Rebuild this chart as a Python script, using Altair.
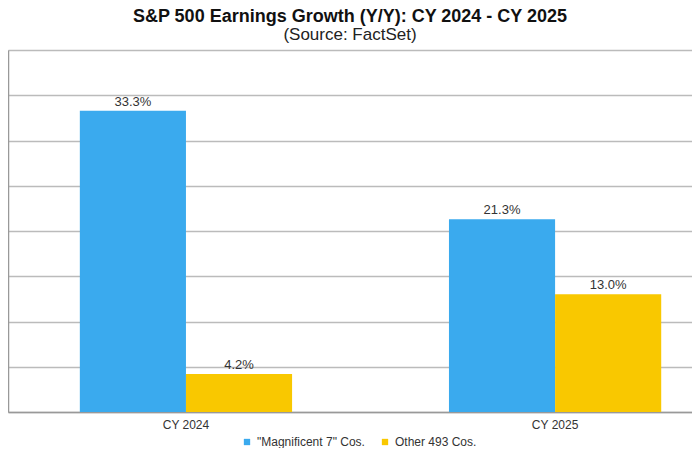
import altair as alt
import pandas as pd

years = ["CY 2024", "CY 2025"]
series = ['"Magnificent 7" Cos.', "Other 493 Cos."]
mag7 = [33.3, 21.3]
other = [4.2, 13.0]
colors = ["#3AAAEE", "#F9C800"]

rows = []
for i, y in enumerate(years):
    rows.append({"year": y, "series": series[0], "value": mag7[i], "order": 0})
    rows.append({"year": y, "series": series[1], "value": other[i], "order": 1})
df = pd.DataFrame(rows)
df["label"] = df["value"].map(lambda v: f"{v:.1f}%")

xscale = alt.Scale(paddingInner=0.425, paddingOuter=0.139, align=0.70)
x = alt.X("year:N", scale=xscale, sort=years,
          axis=alt.Axis(title=None, labelAngle=0, ticks=False, domain=True,
                        domainColor="#999999", domainWidth=1.5,
                        labelFont="Liberation Sans", labelFontSize=12,
                        labelColor="#333333", labelPadding=7))
xo = alt.XOffset("series:N", sort=series, scale=alt.Scale(paddingInner=0, paddingOuter=0))
y = alt.Y("value:Q", scale=alt.Scale(domain=[0, 40], nice=False),
          axis=alt.Axis(title=None, labels=False, ticks=False, values=list(range(0, 45, 5)),
                        grid=True, gridColor="#BBBBBB", gridWidth=1.5,
                        domain=True, domainColor="#999999", domainWidth=1.5))

bars = alt.Chart(df).mark_bar().encode(
    x=x, xOffset=xo, y=y,
    color=alt.Color("series:N", sort=series,
                    scale=alt.Scale(domain=series, range=colors),
                    legend=alt.Legend(title=None, orient="none", direction="horizontal",
                                      legendX=233, legendY=386,
                                      symbolType="square", symbolSize=40,
                                      labelOffset=4,
                                      labelFont="Liberation Sans", labelFontSize=12,
                                      labelColor="#333333", columnPadding=14,
                                      padding=0, symbolStrokeWidth=0)),
)

text = alt.Chart(df).mark_text(dy=-9, font="Liberation Sans", fontSize=13, color="#333333").encode(
    x=x, xOffset=xo, y=y, text="label:N"
)

chart = alt.layer(bars, text).properties(
    width=684, height=362,
    padding=0,
    title=alt.TitleParams(
        text="S&P 500 Earnings Growth (Y/Y): CY 2024 - CY 2025",
        subtitle="(Source: FactSet)",
        font="Liberation Sans", fontSize=18, fontWeight="bold", color="#111111",
        subtitleFont="Liberation Sans", subtitleFontSize=17, subtitleColor="#222222",
        subtitlePadding=1, anchor="middle", offset=7,
    ),
).configure_view(stroke=None).configure(background="white")

chart.save("out.html", embed_options={"renderer": "svg", "actions": False})
